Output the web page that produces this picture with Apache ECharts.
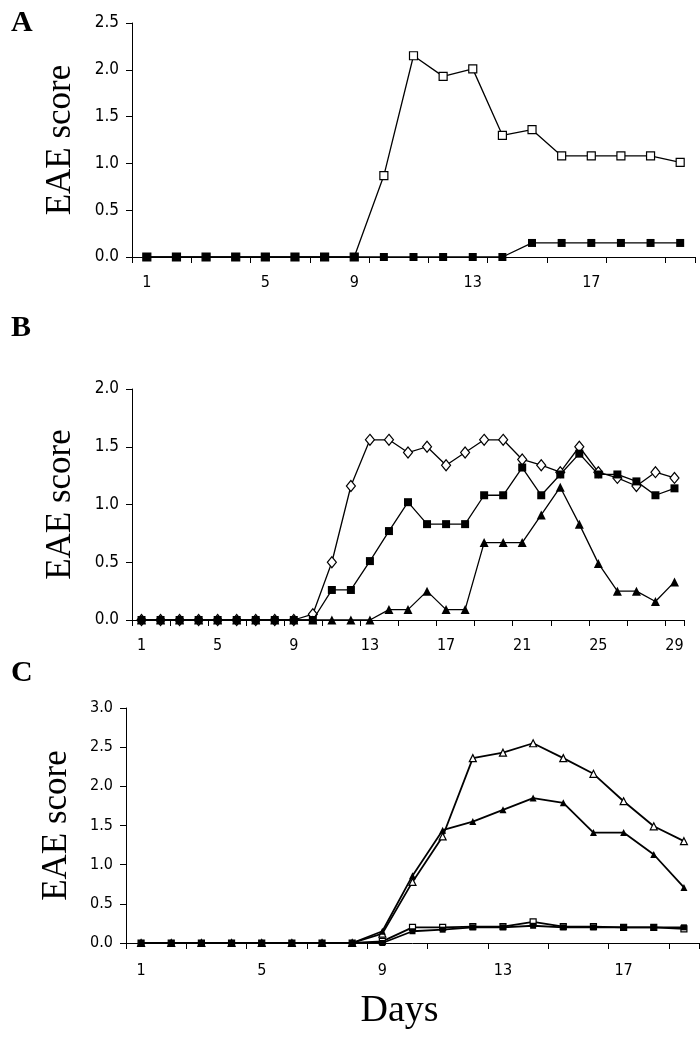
<!DOCTYPE html>
<html>
<head>
<meta charset="utf-8">
<script src="https://cdn.jsdelivr.net/npm/echarts@6/dist/echarts.min.js"></script>
<style>
html,body{margin:0;padding:0;background:#fff;}
#chart{width:700px;height:1038px;}
</style>
</head>
<body>
<div id="chart"></div>
<script>
// ---------- data ----------
var daysA = ['1','2','3','4','5','6','7','8','9','10','11','12','13','14','15','16','17','18','19'];
var daysB = ['1','2','3','4','5','6','7','8','9','10','11','12','13','14','15','16','17','18','19','20','21','22','23','24','25','26','27','28','29'];
var daysC = daysA.slice();

// tick labels of panel A, and the category under which each one is printed in the original figure
var aTickLabels = ['1','5','9','13','17'];
var aTickLabelAt = ['1','5','8','12','16'];

var aOpenSquares   = [0,0,0,0,0,0,0,0,0.87,2.15,1.93,2.01,1.30,1.36,1.08,1.08,1.08,1.08,1.01];
var aFilledSquares = [0,0,0,0,0,0,0,0,0,0,0,0,0,0.15,0.15,0.15,0.15,0.15,0.15];

var bOpenDiamonds   = [0,0,0,0,0,0,0,0,0,0.05,0.50,1.16,1.56,1.56,1.45,1.50,1.34,1.45,1.56,1.56,1.39,1.34,1.28,1.50,1.28,1.23,1.16,1.28,1.23];
var bFilledSquares  = [0,0,0,0,0,0,0,0,0,0,0.26,0.26,0.51,0.77,1.02,0.83,0.83,0.83,1.08,1.08,1.32,1.08,1.26,1.44,1.26,1.26,1.20,1.08,1.14];
var bFilledTriangles= [0,0,0,0,0,0,0,0,0,0,0,0,0,0.09,0.09,0.25,0.09,0.09,0.67,0.67,0.67,0.91,1.15,0.83,0.49,0.25,0.25,0.16,0.33];

var cOpenTriangles   = [0,0,0,0,0,0,0,0,0.12,0.78,1.36,2.36,2.43,2.55,2.36,2.16,1.81,1.49,1.30];
var cFilledTriangles = [0,0,0,0,0,0,0,0,0.15,0.86,1.44,1.55,1.70,1.85,1.79,1.41,1.41,1.13,0.71];
var cOpenSquares     = [0,0,0,0,0,0,0,0,0.02,0.20,0.20,0.21,0.21,0.27,0.21,0.21,0.20,0.20,0.18];
var cFilledSquares   = [0,0,0,0,0,0,0,0,0,0.15,0.17,0.20,0.20,0.22,0.20,0.20,0.20,0.20,0.20];

var yTicksA = [0,0.5,1,1.5,2,2.5];
var yTicksB = [0,0.5,1,1.5,2];
var yTicksC = [0,0.5,1,1.5,2,2.5,3];

var yLabel = 'EAE score';
var xLabel = 'Days';

// ---------- styles ----------
var tickFont = "'Liberation Sans Narrow','Arial Narrow','DejaVu Sans Condensed',sans-serif";
var serif = "'Liberation Serif','DejaVu Serif',serif";

function xAx(idx, data, showName, fs, margin, labelInterval, labelFormatter){
  return {
    type:'category', gridIndex:idx, data:data, boundaryGap:true,
    axisLine:{show:true,onZero:false,lineStyle:{color:'#000',width:1}},
    axisTick:{show:true,interval:1,length:6,lineStyle:{color:'#000',width:1}},
    axisLabel:{interval:labelInterval,formatter:labelFormatter,color:'#000',fontFamily:tickFont,fontSize:fs,margin:margin},
    splitLine:{show:false},
    name: showName ? xLabel : '',
    nameLocation:'middle', nameGap:49,
    nameTextStyle:{fontFamily:serif,fontSize:38,color:'#000',padding:[0,26,0,0]}
  };
}
function yAx(idx, ticks, fs, gap){
  return {
    type:'value', gridIndex:idx, min:ticks[0], max:ticks[ticks.length-1], interval:0.5,
    axisLine:{show:true,lineStyle:{color:'#000',width:1}},
    axisTick:{show:true,length:6,lineStyle:{color:'#000',width:1}},
    axisLabel:{color:'#000',fontFamily:tickFont,fontSize:fs,margin:13,
      formatter:function(v){return v.toFixed(1);}},
    splitLine:{show:false},
    name:yLabel, nameLocation:'middle', nameGap:gap, nameRotate:90,
    nameTextStyle:{fontFamily:serif,fontSize:35,color:'#000'}
  };
}
function ser(xi, data, symbol, size, filled, lw, z){
  return {
    type:'line', xAxisIndex:xi, yAxisIndex:xi, data:data,
    symbol:symbol, symbolSize:size, showAllSymbol:true, animation:false, z:z,
    lineStyle:{color:'#000',width:lw},
    itemStyle:{color: filled ? '#000' : '#fff', borderColor:'#000', borderWidth: filled ? 0 : 1.2}
  };
}

var aLabelInterval = function(i, v){ return aTickLabelAt.indexOf(v) >= 0; };
var aLabelFormatter = function(v){ var k = aTickLabelAt.indexOf(v); return k >= 0 ? aTickLabels[k] : ''; };

var chart = echarts.init(document.getElementById('chart'), null, {renderer:'canvas'});
chart.setOption({
  backgroundColor:'#fff',
  animation:false,
  title:[
    {text:'A', left:6, top:3, textStyle:{fontFamily:serif,fontWeight:'bold',fontSize:30,color:'#000'}},
    {text:'B', left:6, top:308, textStyle:{fontFamily:serif,fontWeight:'bold',fontSize:30,color:'#000'}},
    {text:'C', left:6, top:653, textStyle:{fontFamily:serif,fontWeight:'bold',fontSize:30,color:'#000'}}
  ],
  grid:[
    {left:132, top:23, width:563, height:234},
    {left:132, top:389, width:552, height:231},
    {left:126, top:708, width:573, height:235}
  ],
  xAxis:[ xAx(0, daysA, false, 16, 18, aLabelInterval, aLabelFormatter),
          xAx(1, daysB, false, 16, 18, 3, null),
          xAx(2, daysC, true, 16, 20, 3, null) ],
  yAxis:[ yAx(0, yTicksA, 17, 54), yAx(1, yTicksB, 17, 54), yAx(2, yTicksC, 16, 52) ],
  series:[
    ser(0, aOpenSquares, 'rect', 8, false, 1.3, 2),
    ser(0, aFilledSquares, 'rect', 8, true, 1.3, 3),
    ser(1, bOpenDiamonds, 'diamond', [9,11], false, 1.3, 2),
    ser(1, bFilledTriangles, 'triangle', 9, true, 1.3, 3),
    ser(1, bFilledSquares, 'rect', 8, true, 1.3, 4),
    ser(2, cOpenTriangles, 'triangle', 7, false, 1.8, 2),
    ser(2, cFilledTriangles, 'triangle', 7, true, 1.8, 3),
    ser(2, cOpenSquares, 'rect', 6, false, 1.8, 4),
    ser(2, cFilledSquares, 'rect', 6, true, 1.8, 5)
  ]
});
</script>
</body>
</html>
